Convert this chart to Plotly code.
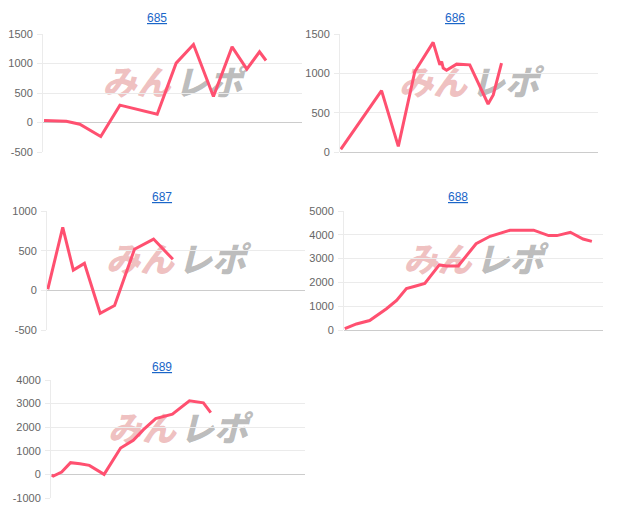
import plotly.graph_objects as go

# ---- data (x: progress 0-100 of the day, y: coin difference) ----
titles = ["685", "686", "687", "688", "689"]

x685 = [0.4, 9.0, 14.2, 22.3, 29.7, 44.1, 51.4, 58.1, 65.8, 73.0, 78.7, 83.6, 86.1]
y685 = [35, 20, -30, -237, 294, 141, 1006, 1322, 440, 1282, 904, 1198, 1051]

x686 = [0.3, 16.1, 22.6, 29.0, 36.1, 38.7, 39.4, 40.0, 41.3, 45.2, 50.3, 57.4, 59.4, 62.6]
y686 = [34, 780, 72, 1023, 1394, 1108, 1150, 1066, 1040, 1117, 1108, 610, 725, 1130]

x687 = [0.3, 6.1, 10.2, 14.5, 20.6, 26.2, 33.9, 41.3, 48.8]
y687 = [13, 794, 255, 340, -289, -191, 518, 646, 391]

x688 = [0.3, 4.8, 9.9, 16.4, 20.3, 24.1, 27.4, 31.2, 36.8, 39.6, 44.1, 47.4, 51.0,
        56.4, 64.1, 73.2, 79.0, 82.2, 87.4, 92.3, 95.7]
y688 = [57, 255, 397, 892, 1246, 1742, 1841, 1955, 2734, 2691, 2691, 3159, 3626,
        3938, 4193, 4193, 3966, 3966, 4108, 3824, 3725]

x689 = [0.3, 0.9, 4.2, 7.7, 11.4, 15.1, 20.9, 27.4, 32.4, 36.4, 41.2, 47.8, 54.5, 60.0, 62.9]
y689 = [-28, -70, 99, 496, 453, 382, 0, 1119, 1445, 1898, 2365, 2550, 3116, 3031, 2620]

# y tick values per chart
ticks685 = [-500, 0, 500, 1000, 1500]
ticks686 = [0, 500, 1000, 1500]
ticks687 = [-500, 0, 500, 1000]
ticks688 = [0, 1000, 2000, 3000, 4000, 5000]
ticks689 = [-1000, 0, 1000, 2000, 3000, 4000]

series = [(x685, y685), (x686, y686), (x687, y687), (x688, y688), (x689, y689)]
all_ticks = [ticks685, ticks686, ticks687, ticks688, ticks689]

# ---- layout geometry (pixels) ----
W, H = 618, 521
boxes = [  # x0, x1, ytop, ybottom
    (43, 302, 34, 152),
    (340, 598, 34, 152),
    (47, 305, 211, 330),
    (344, 603, 211, 330),
    (51, 305, 380, 498),
]
title_pos = [(157, 18), (455, 18), (162, 197), (458, 197), (162, 367)]

LINE = "rgb(255,80,112)"
GRID = "#ebebeb"
ZERO = "#cccccc"

fig = go.Figure()
layout = dict(
    width=W, height=H,
    margin=dict(l=0, r=0, t=0, b=0, pad=0, autoexpand=False),
    paper_bgcolor="white", plot_bgcolor="white",
    showlegend=False,
    annotations=[], shapes=[],
)

for i, ((xs, ys), (x0, x1, yt, yb), tv) in enumerate(zip(series, boxes, all_ticks)):
    n = "" if i == 0 else str(i + 1)
    fig.add_trace(go.Scatter(
        x=xs, y=ys, mode="lines",
        line=dict(color=LINE, width=3),
        xaxis="x" + n, yaxis="y" + n,
        hoverinfo="skip",
    ))
    layout["xaxis" + n] = dict(
        domain=[x0 / W, x1 / W], range=[0, 100], anchor="y" + n,
        showgrid=False, showticklabels=False, zeroline=False, showline=False,
        fixedrange=True, automargin=False,
    )
    layout["yaxis" + n] = dict(
        domain=[1 - yb / H, 1 - yt / H], range=[tv[0], tv[-1]],
        tickmode="array", tickvals=tv, ticktext=[str(v) for v in tv],
        anchor="x" + n,
        showgrid=True, gridcolor=GRID, gridwidth=1,
        zeroline=True, zerolinecolor=ZERO, zerolinewidth=1,
        showline=True, linecolor=GRID, linewidth=1,
        ticks="outside", ticklen=5, tickcolor=GRID,
        tickfont=dict(family="Arial, Liberation Sans", size=11, color="#666666"),
        ticklabelstandoff=2,
        fixedrange=True, automargin=False,
    )
    tx, ty = title_pos[i]
    layout["annotations"].append(dict(
        text="<u>" + titles[i] + "</u>", x=tx / W, y=1 - ty / H,
        xref="paper", yref="paper", xanchor="center", yanchor="middle",
        showarrow=False,
        font=dict(family="Arial, Liberation Sans", size=12, color="#1a66c8"),
    ))
    # watermark (drawn under the line)
    cy = 1 - ((yt + yb) / 2 - 8) / H
    cx = (x0 + x1) / 2 / W
    for txt, col, a, b in [("みん", "rgba(225,140,140,0.55)", cx - 70 / W, cx - 2 / W),
                           ("レポ", "rgba(150,150,150,0.65)", cx + 2 / W, cx + 70 / W)]:
        layout["shapes"].append(dict(
            type="rect", xref="paper", yref="paper",
            x0=a, x1=b, y0=cy - 14 / H, y1=cy + 14 / H,
            line=dict(width=0), fillcolor="rgba(0,0,0,0)", layer="below",
            label=dict(text=txt, textposition="middle center",
                       font=dict(family="Noto Sans CJK JP", size=34, color=col,
                                 weight=900, style="italic")),
        ))

fig.update_layout(**layout)
fig.write_html(
    "out.html",
    config={"displayModeBar": False},
    post_script="document.body.style.margin='0px';document.body.style.padding='0px';",
)
